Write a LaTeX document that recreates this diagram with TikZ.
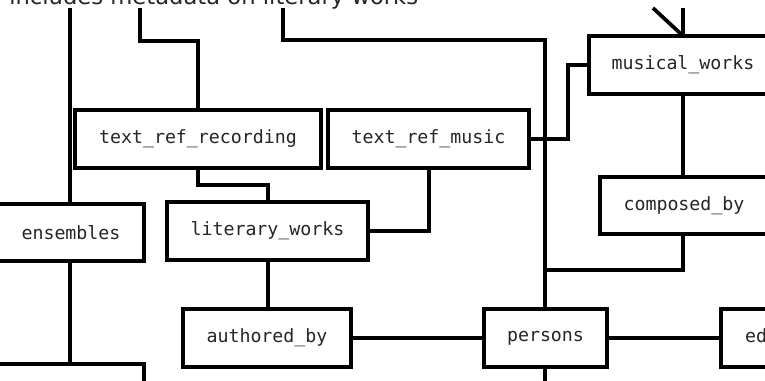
\documentclass[tikz,border=0pt]{standalone}
\usepackage{fontspec}
\setmainfont{DejaVu Sans}
\newfontfamily\monofam{DejaVu Sans Mono}
\begin{document}
\begin{tikzpicture}[x=0.75pt,y=-0.75pt,
  box/.style={draw, line width=2.5pt, fill=white, inner sep=0pt,
              minimum height=43.5pt, font=\monofam\fontsize{13.7pt}{16pt}\selectfont, text=black!85},
  conn/.style={draw, line width=2.8pt, line join=miter}]
\useasboundingbox (0,0) rectangle (765,381);

% top caption (cut off by the page edge, as in the reference)
\node[anchor=base west, inner sep=0pt, font=\fontsize{17pt}{20pt}\selectfont, text=black!85] (cap) at (9,4.5) {includes metadata on literary works};

% free ends
\coordinate (t1) at (70,8);
\coordinate (t2) at (140,8);
\coordinate (t3) at (283,8);
\coordinate (t4) at (683,8);
\coordinate (d1) at (653,8);
\coordinate (d2) at (682,35);
\coordinate (b1) at (545,390);

% connectors (drawn first, boxes on top)
\path[conn] (t1) -- (70,210);
\path[conn] (70,255) -- (70,370);
\path[conn] (t2) -- (140,41) -- (198,41) -- (198,115);
\path[conn] (t3) -- (283,40) -- (545,40) -- (545,315);
\path[conn] (683,230) -- (683,270) -- (545,270);
\path[conn] (d1) -- (d2);
\path[conn] (t4) -- (683,40);
\path[conn] (545,360) -- (b1);

% boxes
\node[box, minimum width=184.5pt]  (trr) at (198,139)   {text\_ref\_recording};
\node[box, minimum width=150.75pt] (trm) at (428.5,139) {text\_ref\_music};
\node[box, minimum width=141pt]    (mw)  at (683,65)    {musical\_works};
\node[box, minimum width=126pt, minimum height=42.75pt] (cb) at (684,205.5) {composed\_by};
\node[box, minimum width=109.5pt, minimum height=42.75pt] (ens) at (71,232.5) {ensembles};
\node[box, minimum width=150.75pt] (lw)  at (267.5,231) {literary\_works};
\node[box, minimum width=126pt]    (ab)  at (267,338)   {authored\_by};
\node[box, minimum width=92.25pt]  (pe)  at (545.5,338) {persons};
\node[box, minimum width=110.25pt] (ed)  at (794.5,338) {edited\_by};
\node[box, minimum width=109.5pt]  (bx)  at (71,393)    {};

% connectors between boxes
\draw[conn] (trm.east) -- (568,139) |- (mw.west);
\draw[conn] (trr.south) -- (198,185) -| (lw.north -| 268,0);
\draw[conn] (lw.east) -| (trm.south -| 429,0);
\draw[conn] (mw.south -| 683,0) -- (cb.north -| 683,0);
\draw[conn] (lw.south -| 268,0) -- (ab.north -| 268,0);
\draw[conn] (ab.east) -- (pe.west);
\draw[conn] (pe.east) -- (ed.west);
\end{tikzpicture}
\end{document}
